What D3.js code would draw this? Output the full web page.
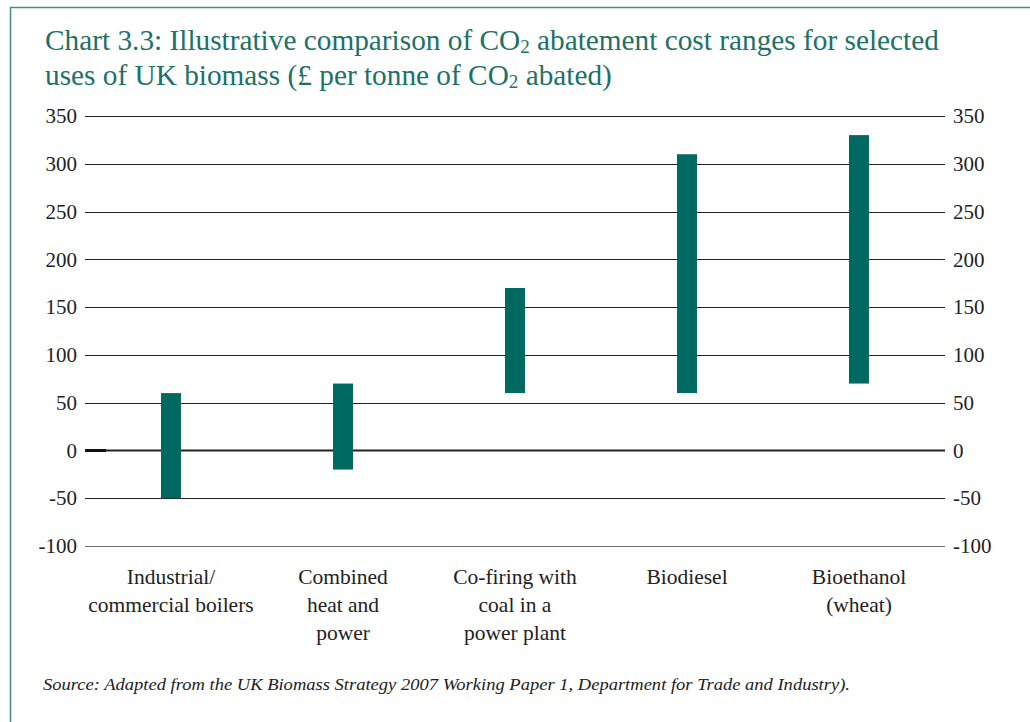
<!DOCTYPE html>
<html><head><meta charset="utf-8">
<script src="https://cdn.jsdelivr.net/npm/d3@7"></script>
<style>body{margin:0;background:#fff}svg{display:block}svg text{font-family:'Liberation Serif','DejaVu Serif',serif}</style>
</head><body>
<svg id="c" width="1030" height="722"></svg>
<script>
const categories = [["Industrial/","commercial boilers"],["Combined","heat and","power"],["Co-firing with","coal in a","power plant"],["Biodiesel"],["Bioethanol","(wheat)"]];
const lowValues = [-50, -20, 60, 60, 70];
const highValues = [60, 70, 170, 310, 330];
const tickValues = [-100, -50, 0, 50, 100, 150, 200, 250, 300, 350];

const svg = d3.select("#c");
const teal = "#1d7167";
const barColor = "#006a62";
const ink = "#222";

// frame
svg.append("path").attr("d","M10.5,722 L10.5,7.5 L1030,7.5").attr("fill","none").attr("stroke","#3d8f87").attr("stroke-width",1.5);

// title
const title = svg.append("text").style("font-size","29.3px").attr("fill",teal);
const l1 = title.append("tspan").attr("x",45).attr("y",50);
l1.append("tspan").text("Chart 3.3: Illustrative comparison of CO");
l1.append("tspan").style("font-size","19px").attr("dy",3).text("2");
l1.append("tspan").attr("dy",-3).text(" abatement cost ranges for selected");
const l2 = title.append("tspan").attr("x",45).attr("y",85);
l2.append("tspan").text("uses of UK biomass (£ per tonne of CO");
l2.append("tspan").style("font-size","19px").attr("dy",3).text("2");
l2.append("tspan").attr("dy",-3).text(" abated)");

const x = d3.scaleBand().domain(d3.range(categories.length)).range([85,945]);
const y = d3.scaleLinear().domain([-100,350]).range([546,116]);

// grid lines
svg.append("g").selectAll("line").data(tickValues).join("line")
  .attr("x1",85).attr("x2",945)
  .attr("y1",d=>Math.round(y(d))+0.5).attr("y2",d=>Math.round(y(d))+0.5)
  .attr("stroke",d=>d===-100?"#6e6e6e":ink)
  .attr("stroke-width",d=>d===0?2.2:1.2);
svg.append("line").attr("x1",85).attr("x2",106).attr("y1",Math.round(y(0))+0.5).attr("y2",Math.round(y(0))+0.5)
  .attr("stroke","#111").attr("stroke-width",3);

// axis labels
const fmt = d=>String(d);
const yl = d3.axisLeft(y).tickValues(tickValues).tickFormat(fmt).tickSize(0).tickPadding(8);
const gl = svg.append("g").attr("transform","translate(85,0)").call(yl);
gl.select(".domain").remove();
gl.attr("font-family",null).attr("font-size",null);
gl.selectAll("text").style("font-size","21px").attr("fill",ink);
const yr = d3.axisRight(y).tickValues(tickValues).tickFormat(fmt).tickSize(0).tickPadding(8);
const gr = svg.append("g").attr("transform","translate(945,0)").call(yr);
gr.select(".domain").remove();
gr.attr("font-family",null).attr("font-size",null);
gr.selectAll("text").style("font-size","21px").attr("fill",ink);

// bars
const bw = 20;
svg.append("g").selectAll("rect").data(categories).join("rect")
  .attr("x",(d,i)=>x(i)+x.bandwidth()/2-bw/2)
  .attr("width",bw)
  .attr("y",(d,i)=>y(highValues[i]))
  .attr("height",(d,i)=>y(lowValues[i])-y(highValues[i]))
  .attr("fill",barColor);

// category labels
const cl = svg.append("g").selectAll("text").data(categories).join("text")
  .style("font-size","21.5px").attr("fill",ink).attr("text-anchor","middle");
cl.each(function(d,i){
  d3.select(this).selectAll("tspan").data(d).join("tspan")
    .attr("x",x(i)+x.bandwidth()/2).attr("y",(t,j)=>584+j*28).text(t=>t);
});

// source
svg.append("text").attr("x",43).attr("y",690).style("font-style","italic")
  .style("font-size","17.5px").attr("fill",ink)
  .attr("textLength",807).attr("lengthAdjust","spacingAndGlyphs")
  .text("Source: Adapted from the UK Biomass Strategy 2007 Working Paper 1, Department for Trade and Industry).");
</script>
</body></html>
